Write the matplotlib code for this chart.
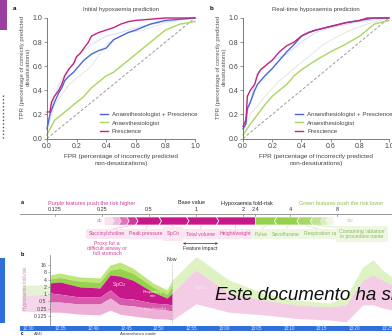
import numpy as np
import matplotlib.pyplot as plt
from matplotlib.patches import Polygon, Rectangle
from matplotlib.lines import Line2D

plt.rcParams['font.family'] = ['Liberation Sans', 'DejaVu Sans']

W, H = 392, 336

# ---- ROC curves, panel a (initial prediction) ----
fpr_pres_a = [0, 0.02, 0.03, 0.05, 0.08, 0.10, 0.12, 0.15, 0.18, 0.20, 0.22, 0.25, 0.28, 0.30,
              0.35, 0.40, 0.45, 0.50, 0.55, 0.60, 0.70, 0.80, 1.0]
tpr_pres_a = [0.22, 0.22, 0.30, 0.35, 0.40, 0.45, 0.52, 0.58, 0.62, 0.68, 0.70, 0.75, 0.80, 0.85,
              0.88, 0.90, 0.92, 0.95, 0.97, 0.98, 0.99, 1.0, 1.0]
fpr_both_a = [0, 0.02, 0.05, 0.08, 0.10, 0.12, 0.15, 0.18, 0.20, 0.25, 0.30, 0.35, 0.40, 0.45,
              0.50, 0.55, 0.60, 0.70, 0.80, 0.90, 1.0]
tpr_both_a = [0.08, 0.20, 0.30, 0.38, 0.42, 0.48, 0.52, 0.55, 0.58, 0.65, 0.70, 0.73, 0.75, 0.82,
              0.85, 0.88, 0.90, 0.95, 0.98, 0.99, 1.0]
fpr_anae_a = [0, 0.03, 0.05, 0.10, 0.15, 0.20, 0.25, 0.30, 0.35, 0.40, 0.45, 0.50, 0.55, 0.60,
              0.65, 0.70, 0.80, 0.90, 1.0]
tpr_anae_a = [0.03, 0.10, 0.15, 0.20, 0.25, 0.30, 0.35, 0.42, 0.47, 0.52, 0.55, 0.60, 0.65, 0.70,
              0.75, 0.80, 0.90, 0.95, 0.97]
# faint individual curves, panel a
fpr_faint1_a = [0, 0.05, 0.10, 0.15, 0.20, 0.30, 0.40, 0.50, 0.60, 0.80, 1.0]
tpr_faint1_a = [0.10, 0.35, 0.50, 0.58, 0.68, 0.78, 0.85, 0.88, 0.92, 0.97, 1.0]
fpr_faint2_a = [0, 0.05, 0.15, 0.25, 0.30, 0.40, 0.45, 0.55, 0.65, 0.80, 1.0]
tpr_faint2_a = [0.05, 0.28, 0.45, 0.55, 0.60, 0.78, 0.82, 0.88, 0.90, 0.96, 1.0]

# ---- ROC curves, panel b (real-time prediction) ----
fpr_pres_b = [0, 0.02, 0.03, 0.05, 0.08, 0.10, 0.12, 0.15, 0.20, 0.25, 0.30, 0.35, 0.40, 0.45,
              0.50, 0.60, 0.70, 0.80, 0.85, 1.0]
tpr_pres_b = [0.10, 0.15, 0.35, 0.40, 0.45, 0.53, 0.57, 0.60, 0.65, 0.72, 0.77, 0.80, 0.85, 0.88,
              0.90, 0.93, 0.96, 0.98, 1.0, 1.0]
fpr_both_b = [0, 0.02, 0.03, 0.05, 0.08, 0.10, 0.15, 0.20, 0.25, 0.30, 0.35, 0.40, 0.45, 0.50,
              0.60, 0.70, 0.80, 0.90, 1.0]
tpr_both_b = [0.08, 0.12, 0.25, 0.30, 0.40, 0.45, 0.52, 0.58, 0.65, 0.72, 0.78, 0.85, 0.88, 0.90,
              0.93, 0.96, 0.98, 1.0, 1.0]
fpr_anae_b = [0, 0.05, 0.10, 0.15, 0.20, 0.25, 0.30, 0.35, 0.40, 0.50, 0.60, 0.70, 0.80, 0.85,
              0.90, 1.0]
tpr_anae_b = [0.03, 0.12, 0.20, 0.28, 0.35, 0.40, 0.45, 0.52, 0.57, 0.65, 0.72, 0.78, 0.85, 0.90,
              0.95, 0.98]
fpr_faint1_b = [0, 0.05, 0.10, 0.20, 0.30, 0.40, 0.50, 0.60, 0.80, 1.0]
tpr_faint1_b = [0.10, 0.30, 0.55, 0.65, 0.70, 0.80, 0.88, 0.92, 0.97, 1.0]
fpr_faint2_b = [0, 0.05, 0.15, 0.25, 0.35, 0.45, 0.55, 0.70, 0.85, 1.0]
tpr_faint2_b = [0.05, 0.20, 0.35, 0.48, 0.58, 0.68, 0.78, 0.88, 0.95, 1.0]

roc_labels = ['Anaesthesiologist + Prescience', 'Anaesthesiologist', 'Prescience']
roc_ticks = [0.0, 0.2, 0.4, 0.6, 0.8, 1.0]

# ---- force plot ----
force_ticks = [0.125, 0.25, 0.5, 1, 2, 2.4, 4, 8]
purple_edges = [0.26, 0.29, 0.32, 0.36, 0.41, 0.58, 0.87, 1.35, 2.4]
green_edges = [2.4, 3.3, 4.6, 5.6, 6.5, 7.0, 7.6]
purple_names = ['Succinylcholine', 'Peak pressure', 'SpO$_2$', 'Total volume', 'Height/weight']
green_names = ['Pulse', 'Sevoflurane', 'Respiration rate', "Containing 'ablation'\nin procedure name"]

# ---- fold-risk over time (minutes after 12:30) ----
t_past = [2.8, 4.3, 7.4, 10.5, 12.1, 13.6, 15.6, 18.7, 20.9, 21.7]
green_top = [6.2, 7.5, 5.1, 4.7, 16, 21, 12, 2.9, 1.5, 3.8]
green_mid = [4.3, 4.9, 3.4, 3.1, 10, 11.5, 7.5, 2.0, 1.0, 2.2]
risk_out = [2.9, 3.2, 2.0, 1.8, 6.2, 5.6, 3.8, 1.23, 0.69, 1.12]
purple_low = [1.12, 1.0, 0.76, 0.76, 1.5, 0.69, 0.63, 0.43, 0.39, 0.36]
pink_mid = [0.47, 0.47, 0.39, 0.39, 0.69, 0.36, 0.33, 0.24, 0.22, 0.20]
pink_low = [0.18, 0.18, 0.15, 0.14, 0.22, 0.15, 0.125, 0.10, 0.094, 0.086]

t_future = [21.7, 25.4, 30.5, 35.8, 40.9, 46.0, 48.6, 51.2, 52.8, 54.3, 55.7]
green_top_f = [3.8, 36, 3.8, 1.12, 0.57, 0.43, 0.76, 13, 26, 9.9, 5.1]
risk_out_f = [1.12, 10, 1.12, 0.57, 0.36, 0.30, 0.36, 3.8, 6.2, 3.8, 2.4]
pink_low_f = [0.086, 0.40, 0.18, 0.14, 0.10, 0.086, 0.071, 0.36, 0.36, 0.27, 0.22]

risk_ticks = [16, 8, 4, 2, 1, 0.5, 0.25, 0.125]
time_labels = ['12:30', '12:35', '12:40', '12:45', '12:50', '12:55', '13:00', '13:05',
               '13:10', '13:15', '13:20', '13:25']
now_t = 21.7

C_PRES = '#c4237f'
C_BOTH = '#4a66dc'
C_ANAE = '#a9d65c'
C_PURPLE = '#c8178b'
C_GREEN = '#96d34c'


def rect(x0, y0, x1, y1):
    return [x0 / W, 1 - y1 / H, (x1 - x0) / W, (y1 - y0) / H]


def ftext(px, py, s, **kw):
    fig.text(px / W, 1 - py / H, s, **kw)


fig = plt.figure(figsize=(W / 100, H / 100), dpi=100)

# left page decorations
fig.add_artist(Rectangle((0, 1 - 30 / H), 7 / W, 30 / H, transform=fig.transFigure,
                         color='#9a3f9f', lw=0))
fig.add_artist(Line2D([3 / W, 3 / W], [1 - 95 / H, 1 - 140 / H], transform=fig.transFigure,
                      color='#555555', lw=1.0, ls=(0, (1, 1.5))))
fig.add_artist(Rectangle((0, 1 - 323 / H), 5 / W, 65 / H, transform=fig.transFigure,
                         color='#2f6fdc', lw=0))


def roc_panel(box, letter, lx, title, tx, data, faint):
    ax = fig.add_axes(rect(*box))
    for fx, fy, c in faint:
        ax.plot(fx, fy, color=c, lw=0.6)
    ax.plot([0, 1], [0, 1], color='#9a9a9a', lw=0.7, ls=(0, (3, 2)))
    handles = []
    for (fx, fy), c in zip(data, [C_BOTH, C_ANAE, C_PRES]):
        h, = ax.plot(fx, fy, color=c, lw=1.0, clip_on=False)
        handles.append(h)
    ax.set_xlim(0, 1)
    ax.set_ylim(0, 1)
    ax.set_xticks(roc_ticks)
    ax.set_yticks(roc_ticks)
    ax.set_xticklabels([f'{v:.1f}' for v in roc_ticks])
    ax.set_yticklabels([f'{v:.1f}' for v in roc_ticks])
    for s in ['top', 'right']:
        ax.spines[s].set_visible(False)
    for s in ['left', 'bottom']:
        ax.spines[s].set_color('#666666')
        ax.spines[s].set_linewidth(0.6)
    ax.tick_params(labelsize=5, length=2, width=0.5, pad=1.5, colors='#666666',
                   labelcolor='#444444')
    ax.legend(handles, roc_labels, loc='lower left', bbox_to_anchor=(0.33, 0.0),
              frameon=False, fontsize=4.4, handlelength=1.3, handletextpad=0.6,
              labelspacing=0.55, borderpad=0.2, labelcolor='#444444')
    ftext(lx, 8, letter, fontsize=4.5, fontweight='bold', ha='center', va='center')
    ftext(tx, 10, title, fontsize=4.3, ha='center', va='center', color='#444444')
    ftext(tx, 160, 'FPR (percentage of incorrectly predicted\nnon-desaturations)',
          fontsize=4.6, ha='center', va='center', color='#444444', linespacing=1.3)
    ftext(box[0] - 21.5, 67, 'TPR (percentage of correctly predicted\ndesaturations)',
          fontsize=4.3, ha='center', va='center', rotation=90, color='#555555',
          linespacing=1.3)
    return ax


roc_panel((47, 18, 195, 138.5), 'a', 15, 'Initial hypoxaemia prediction', 121,
          [(fpr_both_a, tpr_both_a), (fpr_anae_a, tpr_anae_a), (fpr_pres_a, tpr_pres_a)],
          [(fpr_faint1_a, tpr_faint1_a, '#cdd9f6'), (fpr_faint2_a, tpr_faint2_a, '#e2e2e2')])
roc_panel((243, 18, 389, 138.5), 'b', 212, 'Real-time hypoxaemia prediction', 316,
          [(fpr_both_b, tpr_both_b), (fpr_anae_b, tpr_anae_b), (fpr_pres_b, tpr_pres_b)],
          [(fpr_faint1_b, tpr_faint1_b, '#cdd9f6'), (fpr_faint2_b, tpr_faint2_b, '#e2e2e2')])

# ---- force plot ----
axf = fig.add_axes(rect(0, 198, 392, 262))
axf.set_xscale('log', base=2)
axf.set_xlim(2 ** -4.17, 2 ** 4.17)
axf.set_ylim(262, 198)
axf.axis('off')
axf.plot([2 ** -3.75, 2 ** 4.17], [214, 214], color='#888888', lw=0.6)
for v in force_ticks:
    axf.plot([v, v], [214, 216], color='#888888', lw=0.5)
    axf.text(v, 209.5, f'{v:g}', fontsize=4, ha='center', va='center', color='#333333')

ftext(92, 203, 'Purple features push the risk higher', fontsize=4, ha='center',
      va='center', color='#d0409a')
ftext(192, 203, 'Base value', fontsize=4, ha='center', va='center', color='#222222')
ftext(247, 203, 'Hypoxaemia fold-risk', fontsize=4, ha='center', va='center', color='#222222')
ftext(341, 203, 'Green features push the risk lower', fontsize=4, ha='center',
      va='center', color='#8cc04f')

k = 2 ** (2.5 / 47)
top, bot, mid = 217, 225, 221
n_p = len(purple_edges) - 1
for i in range(n_p):
    a, b = purple_edges[i], purple_edges[i + 1]
    alpha = [0.12, 0.3, 0.6, 0.85][i] if i < 4 else 1.0
    left = [(a, bot), (a, top)] if i == 0 else [(a, bot), (a * k, mid), (a, top)]
    pts = left + [(b, top), (b * k, mid), (b, bot)]
    if i == n_p - 1:
        pts = left + [(b, top), (b, bot)]
    axf.add_patch(Polygon(pts, closed=True, facecolor=C_PURPLE, alpha=alpha,
                          edgecolor='white', lw=0.5))
n_g = len(green_edges) - 1
for i in range(n_g):
    a, b = green_edges[i], green_edges[i + 1]
    alpha = [1.0, 1.0, 0.85, 0.6, 0.35, 0.15][i]
    pts = [(a, bot), (a, top), (b, top), (b / k, mid), (b, bot)]
    if i > 0:
        pts = [(a, bot), (a / k, mid), (a, top), (b, top), (b / k, mid), (b, bot)]
    if i == n_g - 1:
        pts = [(a, bot), (a / k, mid), (a, top), (b, top), (b, bot)]
    axf.add_patch(Polygon(pts, closed=True, facecolor=C_GREEN, alpha=alpha,
                          edgecolor='white', lw=0.5))
axf.text(2 ** ((100 - 196) / 47), 221, 'ab', fontsize=3.5, ha='center', va='center',
         color='#d0409a', alpha=0.7)
axf.text(2 ** ((350 - 196) / 47), 221, 'sto', fontsize=3.5, ha='center', va='center',
         color='#9cc764', alpha=0.8)

# label boxes under the bar
p_lab_x = [107, 146, 173, 200, 235]
g_lab_x = [261, 286, 322, 362]
p_seg = [purple_edges[3:][i:i + 2] for i in range(len(purple_names))]
for name, px, seg in zip(purple_names, p_lab_x, p_seg):
    xc = 2 ** ((px - 196) / 47)
    axf.text(xc, 234, name, fontsize=3.7, ha='center', va='center', color='#d0409a',
             bbox=dict(boxstyle='square,pad=0.5', fc='#fbe6f2', ec='none'))
    xs = np.sqrt(seg[0] * seg[1])
    axf.plot([xs, xc], [225.5, 230], color='#f2b8da', lw=0.5)
g_seg = [green_edges[i:i + 2] for i in range(len(green_names))]
for name, px, seg in zip(green_names, g_lab_x, g_seg):
    xc = 2 ** ((px - 196) / 47)
    axf.text(xc, 234, name, fontsize=3.7, ha='center', va='center', color='#8ab85a',
             linespacing=1.0, bbox=dict(boxstyle='square,pad=0.5', fc='#eef7e2', ec='none'))
    xs = np.sqrt(seg[0] * seg[1])
    axf.plot([xs, xc], [225.5, 230], color='#cde8b0', lw=0.5)

axf.annotate('', xy=(2 ** ((183 - 196) / 47), 243.5), xytext=(2 ** ((218 - 196) / 47), 243.5),
             arrowprops=dict(arrowstyle='<->', color='#333333', lw=0.5,
                             shrinkA=0, shrinkB=0, mutation_scale=3))
axf.text(2 ** ((200 - 196) / 47), 248.5, 'Feature impact', fontsize=3.7, ha='center',
         va='center', color='#333333')
ftext(107, 248.5, 'Proxy for a\ndifficult airway or\nfull stomach', fontsize=3.8,
      ha='center', va='center', color='#d0409a', linespacing=1.05)
ftext(22, 203, 'a', fontsize=4, fontweight='bold', ha='center', va='center')

# ---- fold-risk over time ----
axt = fig.add_axes(rect(22, 255, 392, 325))
axt.set_yscale('log', base=2)
axt.set_xlim(-1.55, 55.73)
axt.set_ylim(2 ** -4.23, 2 ** 5.37)
axt.patch.set_alpha(0)

# faint band left of the axis
axt.fill_between([-1.55, 2.8], [2.2, 2.6], [0.9, 1.0], color='#e6f3d2', lw=0)
axt.fill_between([-1.55, 2.8], [0.9, 1.0], [0.2, 0.18], color='#f6d6ea', lw=0)

axt.fill_between(t_past, green_mid, green_top, color='#bde77c', lw=0)
axt.fill_between(t_past, risk_out, green_mid, color=C_GREEN, lw=0)
axt.fill_between(t_past, purple_low, risk_out, color=C_PURPLE, lw=0)
axt.fill_between(t_past, pink_mid, purple_low, color='#d85aab', lw=0)
axt.fill_between(t_past, pink_low, pink_mid, color='#eeb0d6', lw=0)

axt.fill_between(t_future, risk_out_f, green_top_f, color='#def2c2', lw=0)
axt.fill_between(t_future, pink_low_f, risk_out_f, color='#f4cce5', lw=0)

axt.axvline(now_t, ymax=0.9, color='#aaaaaa', lw=0.5, ls=(0, (1, 1)))
axt.text(now_t, 28, 'Now', fontsize=3.8, ha='center', va='center', color='#333333')
axt.text(13.5, 2.6, 'SpO$_2$', fontsize=3.8, ha='center', va='center', color='#f6d3ea')
axt.text(18.7, 1.0, 'Respiratory\nrate', fontsize=2.8, ha='center', va='center',
         color='#e6f6cf', linespacing=0.9)
axt.text(18.9, 0.25, 'Height/weight', fontsize=3.0, ha='center', va='center', color='#f7d6ec')
axt.text(26.2, 1.9, 'SpO$_2$', fontsize=3.8, ha='center', va='center', color='#fbe8f4')

axt.set_yticks(risk_ticks)
axt.set_yticklabels([f'{v:g}' for v in risk_ticks])
axt.minorticks_off()
axt.set_xticks([])
for s in ['top', 'right', 'bottom']:
    axt.spines[s].set_visible(False)
axt.spines['left'].set_position(('data', 2.8))
axt.spines['left'].set_color('#777777')
axt.spines['left'].set_linewidth(0.5)
axt.tick_params(axis='y', labelsize=3.8, length=1.5, width=0.4, pad=1, colors='#777777',
                labelcolor='#444444')
ftext(26, 288, 'Hypoxaemia fold-risk', fontsize=3.3, rotation=90, ha='center', va='center',
      color='#c08aae')
ftext(22, 255, 'b', fontsize=4, fontweight='bold', ha='center', va='center')

# time band
axb = fig.add_axes(rect(20, 325.5, 392, 331))
axb.set_xlim(-1.24, 55.73)
axb.set_ylim(0, 1)
axb.set_facecolor('#2f6fdc')
for s in axb.spines.values():
    s.set_visible(False)
axb.set_xticks([])
axb.set_yticks([])
for i, lab in enumerate(time_labels):
    axb.text(i * 5, 0.5, lab, fontsize=3.3, ha='center', va='center', color='#dfe8fb')

ftext(22, 333.6, 'c', fontsize=3.4, fontweight='bold', ha='center', va='center')
ftext(38, 333.6, 'ASD', fontsize=3.2, ha='center', va='center', color='#444444')
ftext(138, 333.6, 'Anaesthesia mode', fontsize=3.2, ha='center', va='center', color='#444444')

# overlay watermark text
ftext(215, 300, 'Este documento ha si', fontsize=13.5, style='italic', ha='left',
      va='baseline', color='#111111')

fig.savefig('out.png', dpi=100)
